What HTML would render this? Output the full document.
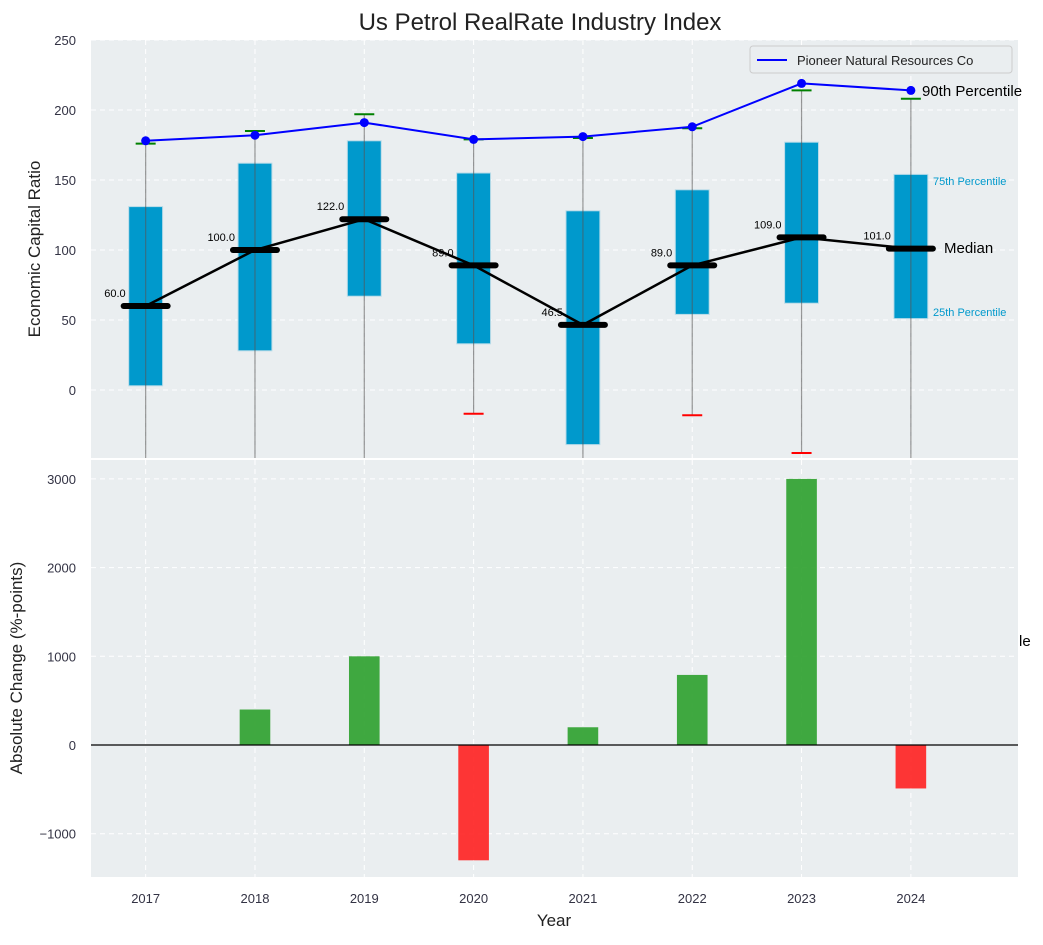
<!DOCTYPE html>
<html><head><meta charset="utf-8"><style>
body{margin:0;background:#fff;font-family:"Liberation Sans",sans-serif}
svg text{font-family:"Liberation Sans",sans-serif}
</style></head><body>
<svg id="chart" width="1043" height="940" xmlns="http://www.w3.org/2000/svg">
<rect width="1043" height="940" fill="#fff"/>
<text x="540" y="30" text-anchor="middle" font-size="24" fill="#222">Us Petrol RealRate Industry Index</text>
<rect x="91" y="40" width="927" height="418" fill="#eaeef0"/>
<rect x="91" y="460" width="927" height="417" fill="#eaeef0"/>
<g id="topg"></g><g id="botg"></g>
<text transform="translate(40,249) rotate(-90)" text-anchor="middle" font-size="17" fill="#222">Economic Capital Ratio</text>
<text transform="translate(22,668) rotate(-90)" text-anchor="middle" font-size="17" fill="#222">Absolute Change (%-points)</text>
<text x="554" y="926" text-anchor="middle" font-size="17" fill="#222">Year</text>
<g>
<rect x="750" y="46" width="262" height="27" rx="3" fill="#eaeef0" stroke="#ccc"/>
<line x1="757" y1="60" x2="787" y2="60" stroke="#0000ff" stroke-width="2"/>
<text x="797" y="65" font-size="13" fill="#222">Pioneer Natural Resources Co</text>
</g>
<text x="922" y="96" font-size="15" fill="#000">90th Percentile</text>
<text x="944" y="253" font-size="15" fill="#000">Median</text>
<text x="933" y="185" font-size="11" fill="#0099cc">75th Percentile</text>
<text x="933" y="316" font-size="11" fill="#0099cc">25th Percentile</text>
<text x="1019" y="646" font-size="15" fill="#000">le</text>
</svg>
<script>
const years=[2017,2018,2019,2020,2021,2022,2023,2024];
const companyVals=[178,182,191,179,181,188,219,214];
const p25=[3,28,67,33,-39,54,62,51];
const p75=[131,162,178,155,128,143,177,154];
const medians=[60,100,122,89,46.5,89,109,101];
const whiskTop=[176,185,197,179,180,187,214,208];
const whiskBot=[-60,-60,-60,-17,-60,-18,-45,-60];
const changes=[0,400,1000,-1300,200,790,3000,-490];
const topTicks=[0,50,100,150,200,250];
const botTicks=[-1000,0,1000,2000,3000];
const NS="http://www.w3.org/2000/svg";
const X=v=>91+(v-2016.5)*(927/8.48);
const YT=v=>390-v*1.4;
const YB=v=>745-v*0.0887;
function mk(p,tag,a){const e=document.createElementNS(NS,tag);for(const k in a)e.setAttribute(k,a[k]);p.appendChild(e);return e;}
const gTop=document.getElementById('topg'),gBot=document.getElementById('botg');
const clipT=mk(gTop,'clipPath',{id:'ct'});mk(clipT,'rect',{x:91,y:40,width:927,height:418});
const clipB=mk(gBot,'clipPath',{id:'cb'});mk(clipB,'rect',{x:91,y:460,width:927,height:417});
topTicks.forEach(t=>{const y=YT(t);
 const g=mk(gTop,'line',{x1:91,x2:1018,y1:y,y2:y,stroke:'#fff','stroke-dasharray':'5,4'});
 
 
 const tx=mk(gTop,'text',{x:76,y:y+5,'text-anchor':'end','font-size':13,fill:'#334'});tx.textContent=t;
 
 });
botTicks.forEach(t=>{const y=YB(t);
 const g=mk(gBot,'line',{x1:91,x2:1018,y1:y,y2:y,stroke:'#fff','stroke-dasharray':'5,4'});
 
 
 const tx=mk(gBot,'text',{x:76,y:y+5,'text-anchor':'end','font-size':13,fill:'#334'});tx.textContent=t<0?'\u2212'+(-t):t;
 
 });
years.forEach(yr=>{const x=X(yr);
 mk(gTop,'line',{x1:x,x2:x,y1:40,y2:458,stroke:'#fff','stroke-dasharray':'5,4'});
 mk(gBot,'line',{x1:x,x2:x,y1:460,y2:877,stroke:'#fff','stroke-dasharray':'5,4'});
 const tx=mk(gBot,'text',{x:x,y:903,'text-anchor':'middle','font-size':13,fill:'#334'});tx.textContent=yr;
 
 });
const gt=mk(gTop,'g',{'clip-path':'url(#ct)'});
const bw=927/8.48*0.31;
years.forEach((yr,i)=>{const x=X(yr);
 const b=mk(gt,'rect',{x:x-bw/2,y:YT(p75[i]),width:bw,height:YT(p25[i])-YT(p75[i]),fill:'#0099cc',stroke:'#b8dbe8','stroke-width':1});
 
 
 const w=mk(gt,'line',{x1:x,x2:x,y1:YT(whiskTop[i]),y2:YT(whiskBot[i]),stroke:'#555','stroke-opacity':0.6,'stroke-width':1.2});
 
 
 const c=mk(gt,'line',{x1:x-10,x2:x+10,y1:YT(whiskTop[i]),y2:YT(whiskTop[i]),stroke:'#008000','stroke-width':2});
 
 
 const c2=mk(gt,'line',{x1:x-10,x2:x+10,y1:YT(whiskBot[i]),y2:YT(whiskBot[i]),stroke:'#ff0000','stroke-width':2});
 
 
});
const ml=mk(gt,'polyline',{points:years.map((yr,i)=>X(yr)+','+YT(medians[i])).join(' '),fill:'none',stroke:'#000','stroke-width':2.5});


years.forEach((yr,i)=>{const x=X(yr),y=YT(medians[i]);
 const m=mk(gt,'line',{x1:x-22,x2:x+22,y1:y,y2:y,stroke:'#000','stroke-width':6,'stroke-linecap':'round'});
 
 
 const t=mk(gt,'text',{x:x-20,y:y-9,'text-anchor':'end','font-size':11,fill:'#000'});t.textContent=medians[i].toFixed(1);
 
 });
const cl=mk(gt,'polyline',{points:years.map((yr,i)=>X(yr)+','+YT(companyVals[i])).join(' '),fill:'none',stroke:'#0000ff','stroke-width':2});


years.forEach((yr,i)=>{const p=mk(gt,'circle',{cx:X(yr),cy:YT(companyVals[i]),r:4.5,fill:'#0000ff'});
 
 });
const gb=mk(gBot,'g',{'clip-path':'url(#cb)'});
const barw=927/8.48*0.28;
years.forEach((yr,i)=>{const v=changes[i];const y0=YB(Math.max(v,0)),y1=YB(Math.min(v,0));
 const r=mk(gb,'rect',{x:X(yr)-barw/2,y:y0,width:barw,height:y1-y0,fill:v>=0?'#2ca02c':'#ff2020','fill-opacity':0.9});
 
 });
const z=mk(gBot,'line',{x1:91,x2:1018,y1:YB(0),y2:YB(0),stroke:'#000','stroke-width':1.2});


</script>
</body></html>
